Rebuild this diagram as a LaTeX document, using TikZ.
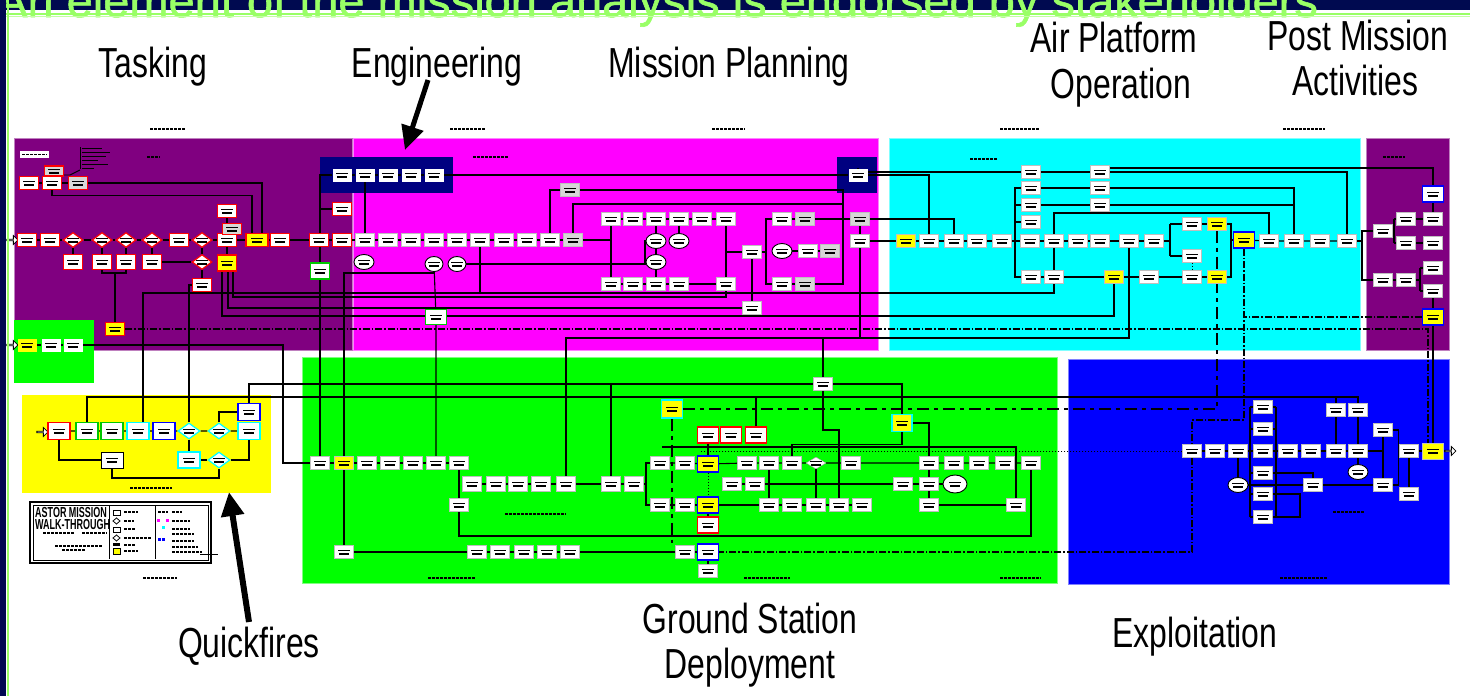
\documentclass[tikz,border=0pt]{standalone}
\usepackage{fontspec}
\setmainfont{Liberation Sans}
\newfontfamily\nrw[FakeStretch=0.76]{Liberation Sans}
\newfontfamily\nrwb[FakeStretch=0.62]{Liberation Sans}
\newfontfamily\ttl[FakeBold=1.2]{Liberation Sans}
\usetikzlibrary{shapes.geometric,shapes.arrows,arrows.meta,calc}
\definecolor{navy}{RGB}{0,10,80}
\definecolor{dnavy}{RGB}{0,0,128}
\definecolor{purp}{RGB}{128,0,128}
\definecolor{magn}{RGB}{255,0,255}
\definecolor{cyn}{RGB}{0,255,255}
\definecolor{grn}{RGB}{0,255,0}
\definecolor{grn2}{RGB}{0,200,0}
\definecolor{blu}{RGB}{0,0,255}
\definecolor{yel}{RGB}{255,255,0}
\definecolor{ltg}{RGB}{153,255,102}
\definecolor{gry}{RGB}{215,215,215}
\pgfdeclarelayer{back}
\pgfdeclarelayer{lines}
\pgfsetlayers{back,lines,main}
\newcommand\mybox[4][]{\node[bx,#1] (#2) at (#3,#4) {};}
\tikzset{
  tx/.style={path picture={
    \fill[black] ($(path picture bounding box.center)+(-6,-2.5)$) rectangle ++(12,1.3);
    \fill[black] ($(path picture bounding box.center)+(-5,1.2)$) rectangle ++(10,1.3);}},
  bx/.style={rectangle, fill=white, draw=black!25, line width=0.4pt, minimum width=19pt, minimum height=13pt, inner sep=0pt, tx},
  rb/.style={draw=red, line width=1.2pt},
  gb/.style={draw=grn2, line width=1.2pt},
  cb/.style={draw=cyn, line width=1.2pt},
  bb/.style={draw=blu, line width=1.4pt},
  kb/.style={draw=black, line width=1pt},
  yb/.style={fill=yel},
  gy/.style={fill=gry},
  dm/.style={diamond, minimum width=20pt, minimum height=15pt},
  el/.style={ellipse, draw=black, line width=0.9pt, minimum width=20pt, minimum height=15pt},
  big/.style={minimum width=21pt, minimum height=16pt},
  ln/.style={draw=black, line width=1.1pt},
  dd/.style={draw=black, line width=1.1pt, dash pattern=on 7pt off 2pt on 1.5pt off 2pt},
  dt/.style={draw=black, line width=0.9pt, dash pattern=on 1.5pt off 1.5pt},
  dsh/.style={draw=black, line width=1.1pt, dash pattern=on 12pt off 5pt on 4pt off 5pt},
  hd/.style={draw=black, line width=2.2pt, dash pattern=on 2.5pt off 1.5pt},
  inarr/.style={single arrow, draw=black, fill=white, line width=0.8pt, minimum height=11pt, minimum width=9pt, single arrow head extend=2pt, inner sep=0pt},
  lbl/.style={font=\nrw\fontsize{42}{46}\selectfont, anchor=base, inner sep=0pt, text=black},
  bigarr/.style={draw=black, line width=5pt, -{Triangle[length=24pt,width=22pt]}}
}
\begin{document}
\begin{tikzpicture}[x=1pt,y=-1pt]
\useasboundingbox (0,0) rectangle (1470,696);
\begin{pgfonlayer}{back}
\fill[white] (0,0) rectangle (1470,696);
\filldraw[fill=purp, draw=purp!50!white, line width=0.8pt] (14,138) rectangle (352,350);
\filldraw[fill=magn, draw=magn!50!white, line width=0.8pt] (353,138) rectangle (878,350);
\fill[dnavy] (320,157) rectangle (453,193);
\fill[dnavy] (837,157) rectangle (877,193);
\filldraw[fill=cyn, draw=cyn!50!white, line width=0.8pt] (889,138) rectangle (1360,350);
\filldraw[fill=purp, draw=purp!50!white, line width=0.8pt] (1366,138) rectangle (1449,350);
\fill[grn] (14,320) rectangle (94,383);
\filldraw[fill=grn, draw=grn!50!white, line width=0.8pt] (302,357) rectangle (1057,583);
\filldraw[fill=blu, draw=blu!50!white, line width=0.8pt] (1068,359) rectangle (1449,584);
\fill[yel] (22,395) rectangle (271,493);
% header scribbles
\draw[hd] (150,129) -- (185,129); \draw[hd] (450,129) -- (485,129);
\draw[hd] (712,129) -- (745,129); \draw[hd] (1000,129) -- (1040,129);
\draw[hd] (1283,129) -- (1325,129);
\draw[hd] (143,578) -- (177,578); \draw[hd] (428,578) -- (475,578);
\draw[hd] (744,578) -- (790,578); \draw[hd] (1000,578) -- (1041,578);
\draw[hd] (1280,578) -- (1327,578);
\fill[white] (20,151) rectangle (49,158);
\draw[hd, line width=1.5pt] (22,154.5) -- (47,154.5);
\draw[hd] (147,157) -- (160,157); \draw[hd] (473,157) -- (508,157);
\draw[hd] (970,159) -- (997,159); \draw[hd] (1383,157) -- (1405,157);
\draw[hd] (505,514) -- (566,514); \draw[hd] (1333,512) -- (1365,512);
\draw[hd] (130,488) -- (172,488);
\foreach \yy/\ww in {148/20,152/28,156/24,160/16,164/26,168/12}{\draw[black, line width=0.9pt] (82,\yy) -- ++(\ww,0);}
\draw[black, line width=0.9pt] (80,147) -- (80,169);
\draw[black, line width=0.9pt] (58,175) -- (70,175) -- (80,170);
\end{pgfonlayer}

% ---------------- Tasking
\mybox[rb,gy,minimum height=10pt]{tl0}{54}{171}
\mybox[rb]{tl1}{29}{183}
\mybox[rb]{tl2}{52}{183}
\mybox[rb,gy]{tl3}{78}{183}
\node[inarr] (ia1) at (12,240) {};
\mybox[rb]{t1}{27}{240}
\mybox[rb]{t2}{50}{240}
\mybox[dm,rb]{d1}{73}{240}
\mybox[dm,rb]{d2}{102}{240}
\mybox[dm,rb]{d3}{126}{240}
\mybox[dm,rb]{d4}{152}{240}
\mybox[rb]{t3}{179}{240}
\mybox[dm,rb]{d5}{202}{240}
\mybox[rb]{t4}{227}{240}
\mybox[rb,yb,minimum width=22pt]{ty1}{257}{240}
\mybox[rb]{t5}{280}{240}
\mybox[rb]{t6}{319}{240}
\mybox[rb]{t7}{342}{240}
\mybox[rb]{t4a}{227}{211}
\mybox[rb,gy,minimum height=11pt]{t4b}{232}{229}
\mybox[rb,minimum height=15pt]{t8}{73}{262}
\mybox[rb,minimum height=15pt]{t9}{102}{262}
\mybox[rb,minimum height=15pt]{t10}{126}{262}
\mybox[rb,minimum height=15pt]{t11}{152}{262}
\mybox[dm,rb]{d6}{202}{262}
\mybox[rb,yb,minimum height=16pt]{ty2}{227}{263}
\mybox[rb]{t12}{202}{285}
\mybox[gb,minimum height=16pt]{tg}{320}{271}
\mybox[rb]{tr}{342}{209}
\mybox[rb,yb]{tyb}{115}{329}
\mybox[draw=none]{e1}{342}{175}
\mybox[draw=none]{e2}{365}{175}
\mybox[draw=none]{e3}{388}{175}
\mybox[draw=none]{e4}{411}{175}
\mybox[draw=none]{e5}{434}{175}
\mybox[draw=none]{en}{858}{175}
\node[inarr] (ia2) at (12,345) {};
\mybox[yb,draw=none]{g1}{27}{345}
\mybox[draw=none]{g2}{51}{345}
\mybox[draw=none]{g3}{73}{345}

% ---------------- Engineering / Mission planning
\mybox{m1}{365}{240}
\mybox{m2}{388}{240}
\mybox{m3}{411}{240}
\mybox{m4}{434}{240}
\mybox{m5}{457}{240}
\mybox{m6}{480}{240}
\mybox{m7}{504}{240}
\mybox{m8}{527}{240}
\mybox{m9}{550}{240}
\mybox[gy]{mg1}{573}{240}
\mybox[el]{me1}{364}{262}
\mybox[el,minimum width=18pt]{mc1}{434}{264}
\mybox[el,minimum width=18pt]{mc2}{457}{264}
\mybox[gy]{mg2}{570}{190}
\mybox{u1}{611}{219}
\mybox{u2}{633}{219}
\mybox{u3}{656}{219}
\mybox{u4}{679}{219}
\mybox{u5}{702}{219}
\mybox{u6}{726}{219}
\mybox{u7}{782}{219}
\mybox[gy]{ug1}{805}{219}
\mybox[gy]{ug2}{860}{219}
\mybox[el]{me2}{656}{241}
\mybox[el]{mo}{679}{241}
\mybox[el]{me4}{656}{262}
\mybox{mb1}{752}{252}
\mybox[el]{me5}{782}{251}
\mybox{mb3}{808}{251}
\mybox[gy]{mg3}{830}{251}
\mybox{mm}{860}{241}
\mybox{l1}{611}{284}
\mybox{l2}{633}{284}
\mybox{l3}{656}{284}
\mybox{l4}{679}{284}
\mybox{l5}{726}{284}
\mybox{l6}{782}{284}
\mybox[gy]{lg}{805}{284}
\mybox{mb2}{752}{308}
\mybox[gb,minimum width=21pt,minimum height=15pt]{mgb}{436}{317}

% ---------------- Air platform (cyan)
\mybox[yb]{c1}{906}{241}
\mybox{c2}{929}{241}
\mybox{c3}{954}{241}
\mybox{c4}{977}{241}
\mybox{c5}{1002}{241}
\mybox{c6}{1030}{241}
\mybox{c7}{1054}{241}
\mybox{c8}{1078}{241}
\mybox{c9}{1100}{241}
\mybox{c10}{1129}{241}
\mybox{c11}{1154}{241}
\mybox[yb,bb,big]{c12}{1244}{240}
\mybox{c13}{1269}{241}
\mybox{c14}{1294}{241}
\mybox{c15}{1320}{241}
\mybox{c16}{1347}{241}
\mybox{k1}{1031}{172}
\mybox{k2}{1031}{188}
\mybox{k3}{1031}{205}
\mybox{k4}{1031}{222}
\mybox{j1}{1100}{172}
\mybox{j2}{1100}{188}
\mybox{j3}{1100}{205}
\mybox{s1}{1192}{224}
\mybox{s2}{1192}{256}
\mybox{s3}{1192}{277}
\mybox[yb]{cy1}{1217}{224}
\mybox[yb]{cy2}{1217}{277}
\mybox{lw1}{1031}{277}
\mybox{lw2}{1054}{277}
\mybox[yb]{cy3}{1114}{277}
\mybox{lw3}{1149}{277}

% ---------------- Post mission
\mybox[bb,big]{pb1}{1433}{194}
\mybox{p2}{1406}{219}
\mybox{p3}{1433}{219}
\mybox{p1}{1383}{231}
\mybox{p4}{1406}{243}
\mybox{p5}{1433}{243}
\mybox{p6}{1433}{268}
\mybox{p7}{1383}{280}
\mybox{p8}{1406}{280}
\mybox{p9}{1433}{291}
\mybox[yb,bb,big]{pby}{1433}{317}

% ---------------- Ground station
\mybox{gA}{320}{463}
\mybox[yb]{gAy}{344}{463}
\mybox{gB}{367}{463}
\mybox{gC}{390}{463}
\mybox{gD}{413}{463}
\mybox{gE}{436}{463}
\mybox{gF}{459}{463}
\mybox[minimum height=15pt]{h1}{472}{484}
\mybox[minimum height=15pt]{h2}{496}{484}
\mybox[minimum height=15pt]{h3}{518}{484}
\mybox[minimum height=15pt]{h4}{541}{484}
\mybox[minimum height=15pt]{h5}{566}{484}
\mybox[minimum height=15pt]{h6}{611}{484}
\mybox[minimum height=15pt]{h7}{634}{484}
\mybox{h8}{459}{505}
\mybox{gH}{344}{552}
\mybox{r1}{477}{552}
\mybox{r2}{500}{552}
\mybox{r3}{524}{552}
\mybox{r4}{547}{552}
\mybox{r5}{570}{552}
\mybox{r6}{685}{552}
\mybox[bb,big]{rbb}{708}{552}
\mybox{rb2}{708}{571}
\mybox[yb,cb,minimum width=21pt,minimum height=18pt]{gyc}{672}{409}
\mybox[rb,big]{rd1}{708}{435}
\mybox[rb,big]{rd2}{731}{435}
\mybox[rb,big]{rd3}{756}{435}
\mybox{q1}{660}{463}
\mybox{q2}{685}{463}
\mybox[yb,bb,big]{qby}{708}{464}
\mybox{q3}{747}{463}
\mybox{q4}{769}{463}
\mybox{q5}{792}{463}
\mybox[dm,draw=black!40,minimum height=12pt]{q6}{816}{463}
\mybox{q7}{851}{463}
\mybox{q8}{929}{463}
\mybox{q9}{954}{463}
\mybox{q10}{979}{463}
\mybox{q11}{1005}{463}
\mybox{q12}{1031}{463}
\mybox{w1}{732}{484}
\mybox{w2}{755}{484}
\mybox{w3}{903}{484}
\mybox{w4}{929}{484}
\mybox[el,minimum width=24pt,minimum height=18pt]{we}{955}{484}
\mybox{v1}{660}{505}
\mybox{v2}{685}{505}
\mybox[yb,bb,big]{vby}{708}{505}
\mybox{v3}{769}{505}
\mybox{v4}{792}{505}
\mybox{v5}{816}{505}
\mybox{v6}{839}{505}
\mybox{v7}{862}{505}
\mybox{v8}{929}{505}
\mybox{v9}{1016}{505}
\mybox[rb,big]{rd4}{708}{525}
\mybox{bx1}{823}{384}
\mybox[yb,cb,minimum width=20pt,minimum height=17pt]{ycy}{902}{423}

% ---------------- Exploitation
\mybox{x1}{1192}{451}
\mybox{x2}{1215}{451}
\mybox{x3}{1238}{451}
\mybox{x4}{1263}{451}
\mybox{x5}{1288}{451}
\mybox{x6}{1311}{451}
\mybox{x7}{1336}{451}
\mybox{x8}{1358}{451}
\mybox{x9}{1409}{451}
\mybox[yb,big]{xy}{1433}{451}
\node[inarr] (oa) at (1450,451) {};
\mybox{xc1}{1263}{407}
\mybox{xc2}{1263}{429}
\mybox{xc3}{1263}{473}
\mybox{xc4}{1263}{494}
\mybox{xc5}{1263}{517}
\mybox[el]{xe1}{1238}{485}
\mybox[el]{xe2}{1358}{472}
\mybox{xb1}{1313}{485}
\mybox{xb2}{1383}{485}
\mybox{xb3}{1383}{430}
\mybox{xb4}{1409}{494}
\mybox{xt1}{1336}{410}
\mybox{xt2}{1358}{410}

% ---------------- Quickfires
\node[inarr] (ia3) at (42,432) {};
\mybox[rb,minimum width=22pt,minimum height=17pt]{qr}{59}{431}
\mybox[gb,minimum width=22pt,minimum height=17pt]{qg1}{87}{431}
\mybox[gb,minimum width=22pt,minimum height=17pt]{qg2}{112}{431}
\mybox[cb,minimum width=22pt,minimum height=17pt]{qc1}{138}{431}
\mybox[bb,minimum width=22pt,minimum height=17pt]{qb1}{164}{431}
\mybox[dm,cb,minimum width=22pt,minimum height=16pt]{qd1}{189}{431}
\mybox[dm,cb,minimum width=22pt,minimum height=16pt]{qd2}{219}{431}
\mybox[cb,minimum width=22pt,minimum height=17pt]{qc2}{249}{431}
\mybox[bb,minimum width=22pt,minimum height=17pt]{qb2}{249}{412}
\mybox[kb,minimum width=22pt,minimum height=16pt]{qw}{112}{460}
\mybox[cb,minimum width=22pt,minimum height=16pt]{qc3}{189}{460}
\mybox[dm,cb,minimum width=22pt,minimum height=16pt]{qd3}{219}{460}

% ---------------- connectors
\begin{pgfonlayer}{lines}
\draw[ln] (ia1) -- (t1) -- (t2) -- (d1) -- (d2) -- (d3) -- (d4) -- (t3) -- (d5) -- (t4) -- (ty1) -- (t5) -- (t6) -- (t7) -- (m1) -- (m2) -- (m3) -- (m4) -- (m5) -- (m6) -- (m7) -- (m8) -- (m9) -- (mg1);
\draw[ln] (tl1) -- (tl2) -- (tl3);
\draw[ln] (tl2.south) -- ++(0,5) -| ([xshift=-5pt]ty1.north);
\draw[ln] (tl3.east) -| ([xshift=5pt]ty1.north);
\draw[ln] (d1) -- (t8); \draw[ln] (d2) -- (t9); \draw[ln] (d3) -- (t10); \draw[ln] (d4) -- (t11);
\draw[ln] (d5) -- (d6) -- (t12); \draw[ln] (t11) -- (d6);
\draw[ln] (t4a) -- (t4) -- (ty2);
\coordinate (j115) at (115,273);
\draw[ln] (t9.south) |- (j115) -| (t10.south); \draw[ln] (j115) -- (tyb.north);
\draw[ln] (e1) -- (e2) -- (e3) -- (e4) -- (e5) -- (en);
\draw[ln] (e1.west) -| (tg.north);
\draw[ln] (tr.west) -- (tr.west -| tg.north);
\draw[ln] (tg) -- (gA);
\draw[ln] (e2) -- (m1);
\draw[ln] (ia2) -- (g1) -- (g2) -- (g3);
\coordinate (c283) at (283,463);
\draw[ln] (g3.east) -| (c283) -- (gA.west);
\coordinate (c293) at (300,293);
\draw[ln] ([xshift=5pt]qc1.north) |- (c293) -| (lw2.south);
\draw[ln] (m6) -- (m6 |- c293);
\coordinate (c297) at (726,297);
\draw[ln] ([xshift=6pt]ty2.south) |- (c297) -- (l5);
\draw[ln] ([xshift=1pt]ty2.south) |- (mb2.west);
\coordinate (c316) at (1114,316);
\draw[ln] ([xshift=-5pt]ty2.south) |- (c316) -- (cy3.south);
\draw[dd] (tyb.east) -| ([xshift=-5pt]xy.north);
% magenta
\draw[ln] (mg1.east) -- (mg1 -| u1); \draw[ln] (u1) -- (l1);
\draw[ln] (u1) -- (u2) -- (u3) -- (u4) -- (u5) -- (u6);
\draw[ln] (l1) -- (l2) -- (l3) -- (l4) -- (l5);
\draw[ln] (u3) -- (me2) -- (me4) -- (l3); \draw[ln] (u4) -- (mo);
\draw[ln] (u6) -- (l5);
\draw[ln] (mb1.west) -- (mb1 -| u6); \draw[ln] (mb1) -- (mb2);
\coordinate (k764a) at (766,219); \coordinate (k764b) at (766,284);
\draw[ln] (u7.west) -- (k764a) -- (k764b) -- (l6.west); \draw[ln] (mb1.east) -- (mb1 -| k764a);
\draw[ln] (u7) -- (ug1) -- (ug2); \draw[ln] (me5) -- (mb3) -- (mg3); \draw[ln] (l6) -- (lg);
\draw[ln] (m9.north) |- (mg2.west);
\coordinate (k843) at (843,284);
\draw[ln] (mg2.east) -| (k843) -- (lg.east);
\coordinate (k204) at (843,204);
\draw[ln] (mg1.north) |- (k204);
\draw[ln] (ug2) -- (mm) -- (c1);
\draw[ln] (ug2.east) -| (c3.north);
\coordinate (k645) at (645,268);
\draw[ln] (mc2.east) -- (mc2.east -| k645) |- (me2.west);
\draw[ln] (mc1) -- (mgb) -- (gE);
\coordinate (k273) at (344,273);
\draw[ln] (mc1.south) |- (k273) -- (gAy) -- (gH);
% cyan
\draw[ln] (c1) -- (c2) -- (c3) -- (c4) -- (c5) -- (c6) -- (c7) -- (c8) -- (c9) -- (c10) -- (c11);
\draw[ln] (en.north) |- (k1.west);
\draw[ln] (en.east) -| (c2.north);
\draw[ln] (k1) -- (j1); \draw[ln] (j1.east) -| (c16.north);
\draw[ln] ([yshift=4pt]j1.east) -| (pb1.north);
\draw[ln] (k2) -- (j2); \draw[ln] (j2.east) -| (c14.north);
\draw[ln] (k3) -- (j3); \draw[ln] (j3.east) -| (c14.north);
\coordinate (k1015a) at (1015,188); \coordinate (k1015b) at (1015,277);
\draw[ln] (k2.west) -- (k1015a) -- (k1015b) -- (lw1.west);
\draw[ln] (k3.west) -- (k3.west -| k1015a); \draw[ln] (k4.west) -- (k4.west -| k1015a);
\coordinate (k215) at (1269,213);
\draw[ln] (c7.north) |- (k215) -- (c13.north);
\draw[ln] (c7) -- (lw2);
\draw[ln] (lw1) -- (lw2) -- (cy3) -- (lw3) -- (s3) -- (cy2);
\coordinate (kcc) at (566,338);
\draw[ln] (c10.south) |- (kcc) -- (h5.north);
\draw[ln] (mm.south) -- (mm.south |- kcc); \draw[ln] (bx1.north) -- (bx1.north |- kcc);
\coordinate (kb1) at (1170,224); \coordinate (kb2) at (1170,256);
\draw[ln] (c11.east) -- (c11.east -| kb1); \draw[ln] (kb1) -- (kb2); \draw[ln] (kb1) -- (s1); \draw[ln] (kb2) -- (s2);
\draw[ln] (s1) -- (cy1); \draw[dsh] (cy1) -- (cy2); \draw[dt] (s2) -- (s3);
\coordinate (kb3) at (1231,224); \coordinate (kb4) at (1231,277);
\draw[ln] (cy1) -- (kb3) -- (kb4) -- (cy2); \draw[ln] (c12) -- (c12 -| kb3);
\draw[ln] (c12) -- (c13) -- (c14) -- (c15) -- (c16);
\coordinate (kp) at (1362,241);
\draw[ln] (c16) -- (kp); \draw[ln] (kp) |- (p1.west); \draw[ln] (kp) |- (p7.west);
% post
\coordinate (kq1) at (1394,219); \coordinate (kq2) at (1394,243);
\draw[ln] (kq1) -- (kq2); \draw[ln] (p1.east) -- (p1.east -| kq1);
\draw[ln] (kq1) -- (p2) -- (p3); \draw[ln] (kq2) -- (p4) -- (p5);
\draw[ln] (pb1) -- (p3);
\draw[ln] (p7) -- (p8);
\coordinate (kr1) at (1420,268); \coordinate (kr2) at (1420,291);
\draw[ln] (kr1) -- (kr2); \draw[ln] (p8.east) -- (p8.east -| kr1); \draw[ln] (kr1) -- (p6); \draw[ln] (kr2) -- (p9);
\draw[ln] (p9) -- (pby); \draw[ln] (pby) -- (xy);
\draw[dd] (pby.west) -- (pby.west -| c12);
\coordinate (kx) at (1192,420);
\draw[dd] (c12.south) |- (kx) -- (x1.north);
\draw[dd] (x1.south) |- (rbb.east);
% ground
\draw[ln] (gA) -- (gAy) -- (gB) -- (gC) -- (gD) -- (gE) -- (gF);
\draw[ln] (gF) -- (h8);
\draw[ln] (h1) -- (h2) -- (h3) -- (h4) -- (h5) -- (h6) -- (h7);
\coordinate (k536) at (1031,536);
\draw[ln] (h8.south) |- (k536) -- (q12.south);
\draw[ln] (gH) -- (r1) -- (r2) -- (r3) -- (r4) -- (r5) -- (r6) -- (rbb) -- (rb2);
\draw[ln] (qb2.north) |- (bx1.west); \draw[ln] (bx1.east) -| (ycy.north);
\draw[ln] (h6.north) -- (h6.north |- bx1.west);
\coordinate (k397) at (1358,397);
\draw[ln] (qg1.north) |- (k397) -- (xt2.north);
\draw[ln] (xt1.north) -- (xt1.north |- k397); \draw[ln] (rd3.north) -- (rd3.north |- k397);
\draw[dsh] (gyc.east) -| (cy2.south);
\draw[dsh] (gyc.south) -- (gyc.south |- rbb.north);
\draw[ln] (rd1) -- (qby); \draw[dt] (qby) -- (vby); \draw[ln] (vby) -- (rd4);
\draw[ln] (q1) -- (q2) -- (qby) -- (q3) -- (q4) -- (q5) -- (q6) -- (q7) -- (q8) -- (q9) -- (q10) -- (q11) -- (q12);
\draw[ln] (v1) -- (v2) -- (vby) -- (v3) -- (v4) -- (v5) -- (v6) -- (v7);
\draw[ln] (v8) -- (v9);
\draw[ln] (w1) -- (w2) -- (w3) -- (w4) -- (we);
\coordinate (kL1) at (646,463); \coordinate (kL2) at (646,505);
\draw[ln] (q1.west) -- (kL1) -- (kL2) -- (v1.west); \draw[ln] (h7.east) -- (h7.east -| kL1);
\coordinate (k447) at (662,447);
\draw[ln] (k447) -| (v9.north);
\coordinate (kdt) at (700,451);
\draw[dt] (x1.west) -- (x1.west -| kdt);
\draw[ln] (ycy.south) |- ($(q5.north)+(0,-12)$) -- (q5.north);
\draw[ln] (ycy.east) -| (q8.north);
\draw[ln] (q6) -- (v5); \draw[ln] (q4) -- (v3); \draw[ln] (q8) -- (w4) -- (v8);
\coordinate (k839) at (839,430);
\draw[ln] (bx1.south) |- (k839) -- (v6.north);
% exploitation
\draw[ln] (x1) -- (x2) -- (x3) -- (x4) -- (x5) -- (x6) -- (x7) -- (x8);
\coordinate (kx8) at (1383,451);
\draw[ln] (x8) -- (kx8); \draw[ln] (xb3) -- (xb2);
\draw[ln] (xb3.east) -| ($(xb2.east)+(6,0)$) -- (xb2.east);
\draw[ln] (x9) -- (xy) -- (oa); \draw[ln] (x9) -- (xb4);
\draw[ln] (xt1) -- (x7); \draw[ln] (xt2) -- (x8); \draw[ln] (x8) -- (xe2);
\draw[ln] (x3) -- (xe1) -- (xb1) -- (xb2);
\coordinate (kxl1) at (1250,407); \coordinate (kxl2) at (1250,517);
\coordinate (kxr1) at (1276,407); \coordinate (kxr2) at (1276,517);
\draw[ln] (kxl1) -- (kxl2); \draw[ln] (kxr1) -- (kxr2);
\foreach \n in {xc1,xc2,xc3,xc4,xc5}{\draw[ln] (\n.west) -- (\n.west -| kxl1); \draw[ln] (\n.east) -- (\n.east -| kxr1);}
\draw[ln] (xc3.east) -| (xb1.north);
\coordinate (klp1) at (1300,494); \coordinate (klp2) at (1300,517);
\draw[ln] (xc4.east) -- (klp1) -- (klp2) -- (xc5.east);
% quickfires
\draw[ln] (ia3) -- (qr) -- (qg1) -- (qg2) -- (qc1) -- (qb1) -- (qd1) -- (qd2) -- (qc2);
\draw[ln] (qr.south) |- (qw.west);
\coordinate (kq478) at (219,478);
\draw[ln] (qw.south) |- (kq478) -- (qd3.south);
\draw[ln] (qc3) -- (qd3); \draw[ln] (qd3.east) -| (qc2.south);
\draw[ln] (qd2.north) |- (qb2.west);
\draw[dsh] (qd1) -- (qc3);
\draw[ln] (qd1.north) |- (t12.west);
\end{pgfonlayer}

% ---------------- legend
\draw[black, line width=1.2pt] (30,502) rectangle (211,563);
\draw[black, line width=0.8pt] (33,505) rectangle (208,560);
\draw[black, line width=0.8pt] (109,506) -- (109,559);
\draw[black, line width=0.8pt] (155,506) -- (155,559);
\node[font=\nrwb\bfseries\fontsize{14.5}{15}\selectfont, anchor=base west, inner sep=0pt] (lg1) at (35,517) {ASTOR MISSION};
\node[font=\nrwb\bfseries\fontsize{14.5}{15}\selectfont, anchor=base west, inner sep=0pt] (lg2) at (35,529) {WALK-THROUGH};
\draw[hd, line width=1.3pt] (43,533) -- (75,533); \draw[hd, line width=1.3pt] (82,533) -- (107,533);
\draw[hd, line width=1.3pt] (55,546) -- (102,546); \draw[hd, line width=1.3pt] (62,550) -- (85,550);
\draw[black, line width=0.8pt] (113,510) rectangle (120,515);
\draw[black, line width=0.8pt] (116.5,518) -- (120,521) -- (116.5,524) -- (113,521) -- cycle;
\draw[black, line width=0.8pt] (113,527) rectangle (120,532);
\draw[black, line width=0.8pt] (116.5,535) -- (120,538) -- (116.5,541) -- (113,538) -- cycle;
\fill[black] (113,543) rectangle (120,546);
\filldraw[fill=yel, draw=black, line width=0.8pt] (113,548) rectangle (120,554);
\foreach \yy/\ww in {512/14,521/10,529/12,538/28,545/12,551/14}{\draw[hd, line width=1.2pt] (124,\yy) -- ++(\ww,0);}
\fill[magn] (157,519) rectangle (160,522); \fill[magn] (166,519) rectangle (169,522);
\fill[cyn] (162,526) rectangle (165,529);
\fill[blu] (158,538) rectangle (161,541); \fill[blu] (162,538) rectangle (165,541);
\foreach \yy/\ww in {512/10,521/18,529/18,534/22,541/22,547/26,552/30}{\draw[hd, line width=1.2pt] (172,\yy) -- ++(\ww,0);}
\draw[hd, line width=1.2pt] (158,512) -- (168,512);
\coordinate (lgo) at (218,554);
\draw[black, line width=0.9pt] (200,554) -- (lgo);

% ---------------- big labels and arrows
\node[lbl] (Ltask) at (153,77) {Tasking};
\node[lbl] (Leng) at (437,77) {Engineering};
\node[lbl] (Lmp) at (729,77) {Mission Planning};
\node[lbl] (Lair1) at (1114,52) {Air Platform};
\node[lbl] (Lair2) at (1121,98) {Operation};
\node[lbl] (Lpost1) at (1358,50) {Post Mission};
\node[lbl] (Lpost2) at (1355,95) {Activities};
\node[lbl] (Lqf) at (249,657) {Quickfires};
\node[lbl] (Lgs1) at (750,633) {Ground Station};
\node[lbl] (Lgs2) at (750,678) {Deployment};
\node[lbl] (Lexp) at (1195,647) {Exploitation};
\coordinate (ea1) at (428,80); \coordinate (ea2) at (405,150);
\draw[bigarr] (ea1) -- (ea2);
\coordinate (qa1) at (249,622); \coordinate (qa2) at (229,492);
\draw[bigarr, line width=6pt] (qa1) -- (qa2);

% ---------------- title and frame
\begin{scope}
\clip (0,0) rectangle (1470,696);
\fill[navy] (0,0) rectangle (1470,10);
\node[anchor=base west, inner sep=0pt, text=ltg, font=\ttl\fontsize{47}{50}\selectfont] (title) at (-4,17) {An element of the mission analysis is endorsed by stakeholders};
\fill[ltg] (0,12.5) rectangle (1470,14.5);
\fill[ltg!60!white] (0,16) rectangle (1470,17);
\fill[navy] (0,0) rectangle (6,696);
\fill[ltg] (6.5,0) rectangle (8.5,696);
\end{scope}
\end{tikzpicture}
\end{document}
